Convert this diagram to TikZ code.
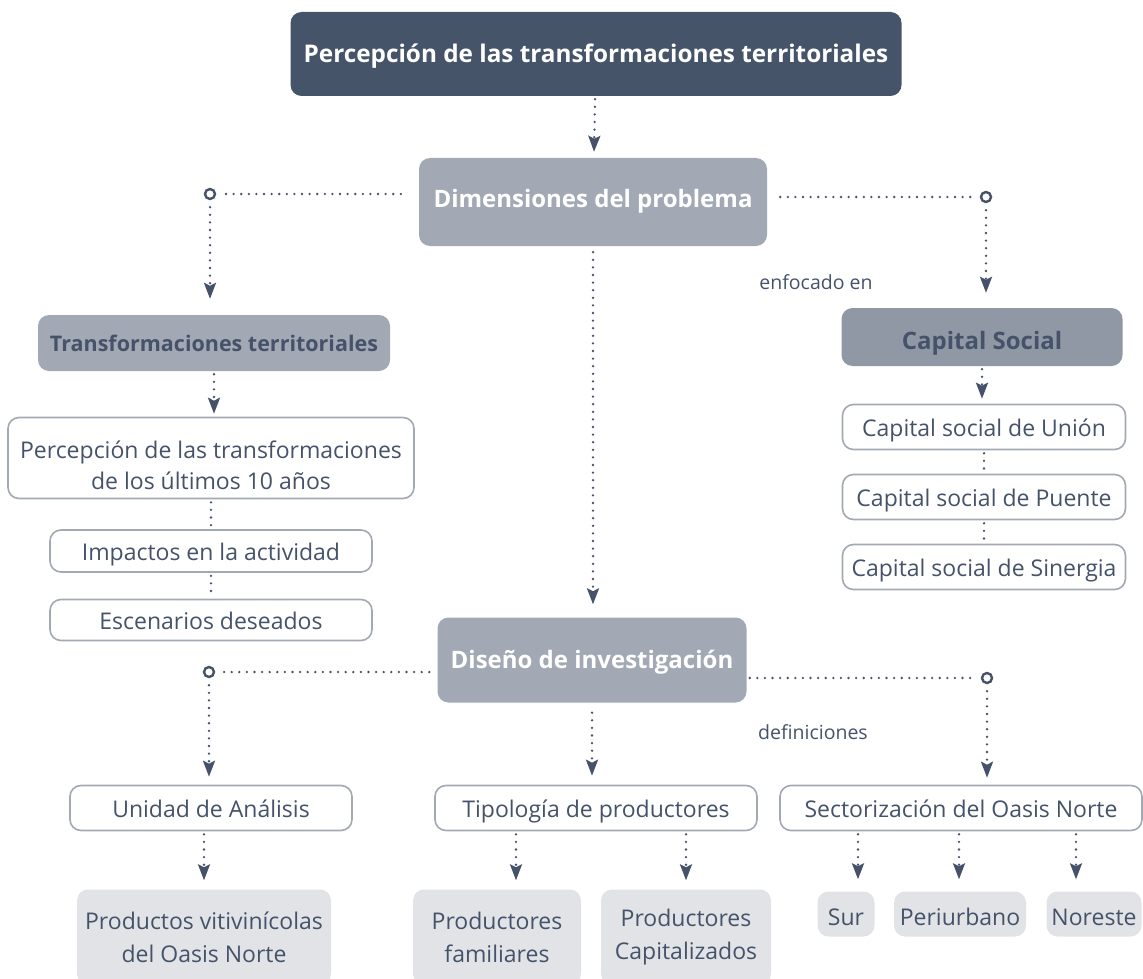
\documentclass[tikz,border=0pt]{standalone}
\usepackage{fontspec}
\setmainfont{Open Sans}
\usetikzlibrary{positioning, arrows.meta}
\definecolor{headblue}{HTML}{46546A}
\definecolor{inkblue}{HTML}{45526A}
\definecolor{midgrey}{HTML}{A2A9B4}
\definecolor{darkgrey}{HTML}{8F98A4}
\definecolor{framegrey}{HTML}{A3A9B2}
\definecolor{palegrey}{HTML}{E1E3E7}

\begin{document}
\begin{tikzpicture}[x=1pt, y=-1pt,
        base/.style={rounded corners=11, inner sep=0pt, align=center, font=\fontsize{23}{31}\selectfont},
        oneline/.style={text height=24pt, text depth=5pt},
        paleline/.style={text height=28pt, text depth=5pt},
        boldline/.style={text height=22pt, text depth=5pt},
        topbox/.style={base, boldline, fill=headblue, text=white, font=\bfseries\fontsize{24.3}{30}\selectfont},
        midbox/.style={base, boldline, fill=midgrey, text=white, font=\bfseries\fontsize{24}{30}\selectfont},
        subbox/.style={base, boldline, fill=midgrey, text=inkblue, font=\bfseries\fontsize{21.5}{30}\selectfont},
        capbox/.style={base, boldline, fill=darkgrey, text=inkblue, font=\bfseries\fontsize{24}{30}\selectfont},
        whitebox/.style={base, draw=framegrey, line width=1.6pt, fill=white, text=inkblue},
        palebox/.style={base, fill=palegrey, text=inkblue, font=\fontsize{23}{33}\selectfont},
        note/.style={text=inkblue, font=\fontsize{19.5}{24}\selectfont},
        ring/.style={circle, draw=inkblue, line width=2.4pt, fill=white, minimum size=10pt, inner sep=0pt},
        dots/.style={draw=inkblue, line width=2.6pt, line cap=round, dash pattern=on 0pt off 7.6pt},
        arrow/.style={dots, -{Stealth[length=16pt, width=12pt, inset=3pt]}, shorten <=3pt, shorten >=9pt}]
      \clip (0,0) rectangle (1143,979);
      % Nodes
      \node[topbox, minimum width=611, minimum height=84] (perc) at (596,54) {Percepción de las transformaciones territoriales};
      \node[midbox, text height=16pt, minimum width=348, minimum height=88] (dim) at (593,202) {Dimensiones del problema};
      \node[ring] (dimL) at (210,194) {};
      \node[ring] (dimR) at (986,197) {};

      \node[subbox, minimum width=352, minimum height=56] (trans) at (214,343) {Transformaciones territoriales};
      \node[whitebox, minimum width=406, minimum height=81] (percep) at (211,458) {\rule{0pt}{32pt}Percepción de las transformaciones\\de los últimos 10 años};
      \node[whitebox, oneline, minimum width=322, minimum height=42] (impact) at (211,551) {Impactos en la actividad};
      \node[whitebox, oneline, minimum width=322, minimum height=41] (escen) at (211,620) {Escenarios deseados};

      \node[capbox, text height=30pt, minimum width=281, minimum height=58] (capital) at (982,337) {Capital Social};
      \node[whitebox, oneline, minimum width=283, minimum height=45] (union) at (984,427) {Capital social de Unión};
      \node[whitebox, oneline, minimum width=283, minimum height=45] (puente) at (984,497) {Capital social de Puente};
      \node[whitebox, oneline, minimum width=283, minimum height=45] (sinerg) at (984,567) {Capital social de Sinergia};

      \node[midbox, minimum width=309, minimum height=85] (diseno) at (592,660) {Diseño de investigación};
      \node[ring] (disL) at (209,672) {};
      \node[ring] (disR) at (987,678) {};

      \node[whitebox, oneline, minimum width=282, minimum height=45] (unidad) at (211,808) {Unidad de Análisis};
      \node[whitebox, oneline, minimum width=322, minimum height=45] (tipo) at (596,808) {Tipología de productores};
      \node[whitebox, oneline, minimum width=362, minimum height=45] (sector) at (961,808) {Sectorización del Oasis Norte};

      \node[palebox, minimum width=254, minimum height=95] (prodv) at (204,937) {Productos vitivinícolas\\del Oasis Norte};
      \node[palebox, minimum width=168, minimum height=95] (fam) at (497,937) {Productores\\familiares};
      \node[palebox, minimum width=170, minimum height=95] (capit) at (686,937) {Productores\\Capitalizados};
      \node[palebox, paleline, minimum width=57, minimum height=45] (sur) at (846,914) {Sur};
      \node[palebox, paleline, minimum width=132, minimum height=45] (peri) at (960,914) {Periurbano};
      \node[palebox, paleline, minimum width=95, minimum height=45] (nores) at (1094,914) {Noreste};

      % Labels
      \node[note] (enf) at (816,282) {enfocado en};
      \node[note] (defs) at (813,732) {definiciones};

      % Edges
      \draw[arrow, shorten >=6pt] (perc) -- (dim);
      \draw[dots, shorten <=18pt, shorten >=7pt] (dim.west |- dimL) -- (dimL);
      \draw[dots, shorten <=13pt, shorten >=7pt] (dim.east |- dimR) -- (dimR);
      \draw[arrow, shorten <=7pt, shorten >=16pt] (dimL) -- (dimL |- trans.north);
      \draw[arrow, shorten <=7pt, shorten >=15pt] (dimR) -- (dimR |- capital.north);
      \draw[arrow, shorten <=6pt, shorten >=13pt] (dim.south) -- (dim.south |- diseno.north);

      \draw[arrow, shorten >=3pt] (trans.south) -- (trans.south |- percep.north);
      \draw[dots, shorten <=3pt, shorten >=2pt] (percep) -- (impact);
      \draw[dots, shorten <=3pt, shorten >=2pt] (impact) -- (escen);

      \draw[arrow, shorten >=5pt] (capital.south) -- (capital.south |- union.north);
      \draw[dots, shorten <=3pt, shorten >=3pt] (union) -- (puente);
      \draw[dots, shorten <=3pt, shorten >=3pt] (puente) -- (sinerg);

      \draw[dots, shorten <=8pt, shorten >=7pt] (diseno.west |- disL) -- (disL);
      \draw[dots, shorten <=3pt, shorten >=7pt] (diseno.east |- disR) -- (disR);
      \draw[arrow, shorten <=7pt, shorten >=8pt] (disL) -- (disL |- unidad.north);
      \draw[arrow, shorten <=10pt, shorten >=9pt] (diseno.south) -- (diseno.south |- tipo.north);
      \draw[arrow, shorten <=7pt, shorten >=7pt] (disR) -- (disR |- sector.north);

      \draw[arrow] (unidad.south -| prodv.north) -- (prodv.north);
      \draw[arrow] ([xshift=-80pt]tipo.south) -- ([xshift=-80pt]tipo.south |- fam.north);
      \draw[arrow] (tipo.south -| capit.north) -- (capit.north);
      \draw[arrow, shorten >=12pt] ([xshift=-103pt]sector.south) -- ([xshift=-103pt]sector.south |- sur.north);
      \draw[arrow, shorten >=12pt] ([xshift=-2pt]sector.south) -- ([xshift=-2pt]sector.south |- peri.north);
      \draw[arrow, shorten >=12pt] ([xshift=115pt]sector.south) -- ([xshift=115pt]sector.south |- nores.north);
\end{tikzpicture}
\end{document}
